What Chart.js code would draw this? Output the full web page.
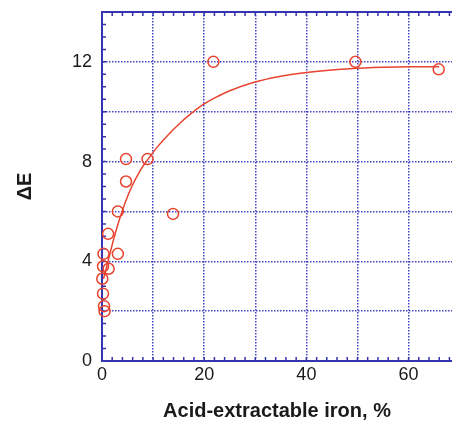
<!DOCTYPE html>
<html>
<head>
<meta charset="utf-8">
<script src="https://cdn.jsdelivr.net/npm/chart.js@4/dist/chart.umd.min.js"></script>
<style>
    body { margin: 0; background: #fff; }
    #wrap { width: 452px; height: 423px; }
</style>
</head>
<body>
<div id="wrap"><canvas id="ironChart" width="452" height="423"></canvas></div>
<script>
// Measured samples (acid-extractable iron % vs colour difference)
const ironPct = [0.3, 3.1, 0.2, 1.3, 0.05, 0.2, 0.4, 0.5, 1.2, 3.1, 4.7, 4.7, 8.9, 13.9, 21.8, 49.6, 65.9];
const deltaE  = [4.3, 4.3, 3.8, 3.7, 3.3, 2.7, 2.2, 2.0, 5.1, 6.0, 7.2, 8.1, 8.1, 5.9, 12.0, 12.0, 11.7];

// Fitted curve
const fitIron   = [0.3, 1.0, 2.3, 3.6, 5.5, 7.5, 9.1, 10.8, 12.7, 15.3, 17.3, 19.9, 22.8, 25, 29.6, 35, 40, 48.5, 55, 60, 66];
const fitDeltaE = [3.3, 3.85, 4.9, 5.8, 6.85, 7.65, 8.12, 8.58, 9.02, 9.55, 9.9, 10.3, 10.63, 10.84, 11.17, 11.42, 11.57, 11.72, 11.78, 11.8, 11.8];

// Axis labels
const xLabels = [0, 20, 40, 60];
const yLabels = [0, 4, 8, 12];

const axisBlue = '#3434b0';
const gridBlue = 'rgba(58, 58, 192, 0.95)';
const red = '#e8432e';

// inward minor ticks + top border like the original plot
const frameTicks = {
    id: 'frameTicks',
    beforeDatasetsDraw(chart) {
        const { ctx, chartArea: a, scales: { x, y } } = chart;
        ctx.save();
        ctx.strokeStyle = axisBlue;
        ctx.lineWidth = 1.5;
        ctx.beginPath();
        for (let v = 0; v <= x.max; v += 2) {
            const px = x.getPixelForValue(v);
            ctx.moveTo(px, a.bottom); ctx.lineTo(px, a.bottom - 4);
            ctx.moveTo(px, a.top); ctx.lineTo(px, a.top + 4);
        }
        for (let v = 0; v <= y.max; v += 0.5) {
            const py = y.getPixelForValue(v);
            ctx.moveTo(a.left, py); ctx.lineTo(a.left + 4, py);
        }
        ctx.stroke();
        ctx.lineWidth = 2;
        ctx.beginPath();
        ctx.moveTo(a.left, a.top);
        ctx.lineTo(a.right, a.top);
        ctx.stroke();
        ctx.restore();
    }
};

new Chart(document.getElementById('ironChart'), {
    type: 'scatter',
    data: {
        datasets: [
            {
                data: ironPct.map((v, i) => ({ x: v, y: deltaE[i] })),
                pointStyle: 'circle',
                pointRadius: 5.5,
                pointBorderWidth: 1.5,
                pointBorderColor: red,
                pointBackgroundColor: 'rgba(0,0,0,0)',
                clip: false
            },
            {
                data: fitIron.map((v, i) => ({ x: v, y: fitDeltaE[i] })),
                showLine: true,
                borderColor: red,
                borderWidth: 1.5,
                pointRadius: 0,
                cubicInterpolationMode: 'monotone',
                clip: false
            }
        ]
    },
    options: {
        responsive: false,
        animation: false,
        layout: { autoPadding: false, padding: { top: 12, right: 0, bottom: 0, left: 0 } },
        plugins: {
            legend: { display: false },
            tooltip: { enabled: false }
        },
        scales: {
            x: {
                type: 'linear',
                min: 0,
                max: 68.5,
                afterBuildTicks: function(scale) {
                    const t = [];
                    for (let v = 0; v <= 60; v += 10) t.push({ value: v });
                    scale.ticks = t;
                },
                afterFit: function(scale) {
                    scale.height = 62;
                    scale.paddingLeft = 0;
                    scale.paddingRight = 0;
                },
                ticks: {
                    autoSkip: false,
                    maxRotation: 0,
                    padding: 3,
                    color: '#1a1a1a',
                    font: { family: 'Liberation Sans', size: 18 },
                    callback: v => xLabels.includes(v) ? String(v) : ''
                },
                grid: { color: gridBlue, lineWidth: 1.5, drawTicks: false },
                border: { color: axisBlue, width: 2, dash: [1.5, 1.5] },
                title: {
                    display: true,
                    text: 'Acid-extractable iron, %',
                    color: '#1a1a1a',
                    font: { family: 'Liberation Sans', size: 20, weight: 'bold' },
                    padding: { top: 0, bottom: 0 }
                }
            },
            y: {
                min: 0,
                max: 14,
                afterFit: function(scale) {
                    scale.width = 102;
                    scale.paddingTop = 0;
                    scale.paddingBottom = 0;
                },
                ticks: {
                    stepSize: 2,
                    padding: 10,
                    color: '#1a1a1a',
                    font: { family: 'Liberation Sans', size: 18 },
                    callback: v => yLabels.includes(v) ? String(v) : ''
                },
                grid: { color: gridBlue, lineWidth: 1.5, drawTicks: false },
                border: { color: axisBlue, width: 2, dash: [1.5, 1.5] },
                title: {
                    display: true,
                    text: 'ΔE',
                    color: '#1a1a1a',
                    font: { family: 'Liberation Sans', size: 20, weight: 'bold' },
                    padding: { top: 13, bottom: 0 }
                }
            }
        }
    },
    plugins: [frameTicks]
});
</script>
</body>
</html>
